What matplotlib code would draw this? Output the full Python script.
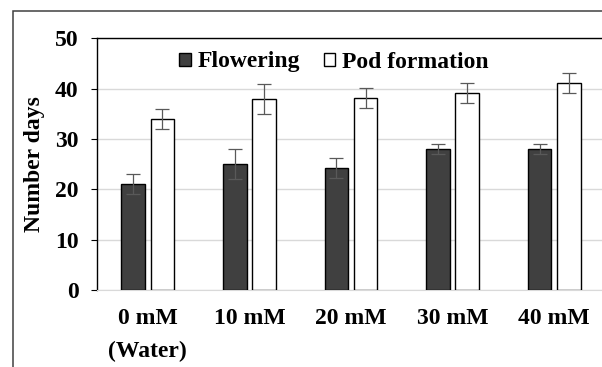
import matplotlib
matplotlib.use("Agg")
import matplotlib.pyplot as plt
import numpy as np
from matplotlib.patches import Rectangle

# values
groups = ["0 mM\n(Water)", "10 mM", "20 mM", "30 mM", "40 mM"]
flowering = [21, 25, 24.2, 28, 28]
flowering_err = [2, 3, 2, 1, 1]
pod = [34, 38, 38.2, 39.2, 41.1]
pod_err = [2, 3, 2, 2, 2]

plt.rcParams['font.family'] = ['Liberation Serif', 'DejaVu Serif']
plt.rcParams['font.weight'] = 'bold'
fs = 17

W, H = 602, 367
fig = plt.figure(figsize=(W / 100, H / 100), dpi=100)

# outer frame (cut off at right and bottom in the original)
fig.patches.append(Rectangle((13 / W, -0.1), 1.2, (H - 11) / H + 0.1,
                             transform=fig.transFigure, fill=False,
                             edgecolor='#404040', linewidth=1.1))

ax = fig.add_axes([97 / W, 1 - 290 / H, 508 / W, 251.7 / H])

x = np.arange(len(groups))
bw = 0.232
off = 0.143
err_kw = dict(ecolor='#595959', elinewidth=0.9, capthick=0.9)
ax.bar(x - off, flowering, bw, yerr=flowering_err, capsize=4.7,
       color='#404040', edgecolor='black', linewidth=1.0,
       error_kw=err_kw, label='Flowering', zorder=3)
ax.bar(x + off, pod, bw, yerr=pod_err, capsize=4.7,
       color='white', edgecolor='black', linewidth=1.0,
       error_kw=err_kw, label='Pod formation', zorder=3)

ax.set_xlim(-0.5, 4.5)
ax.set_ylim(0, 50)
ax.set_yticks([0, 10, 20, 30, 40, 50])
ax.set_xticks(x)
ax.set_xticklabels(groups)
for t in ax.get_xticklabels():
    t.set_linespacing(1.75)

ax.grid(axis='y', color='#d9d9d9', linewidth=1.0, zorder=0)
ax.set_axisbelow(True)
ax.spines['right'].set_visible(False)
ax.spines['bottom'].set_color('#d9d9d9')
ax.spines['left'].set_linewidth(1.0)
ax.spines['top'].set_linewidth(1.0)

ax.tick_params(axis='y', length=4.3, width=0.8, pad=9, labelsize=fs)
ax.tick_params(axis='x', length=0, pad=13, labelsize=fs)

ax.set_ylabel('Number days', fontsize=fs, fontweight='bold')
ax.yaxis.set_label_coords(-0.103, 0.5)

leg = ax.legend(loc='center', bbox_to_anchor=(334 / W, 1 - 62 / H),
                bbox_transform=fig.transFigure, ncol=2, frameon=False,
                fontsize=fs, handlelength=0.47, handleheight=0.47,
                handletextpad=0.3, columnspacing=1.0, borderpad=0)

fig.savefig('out.png', dpi=100)
